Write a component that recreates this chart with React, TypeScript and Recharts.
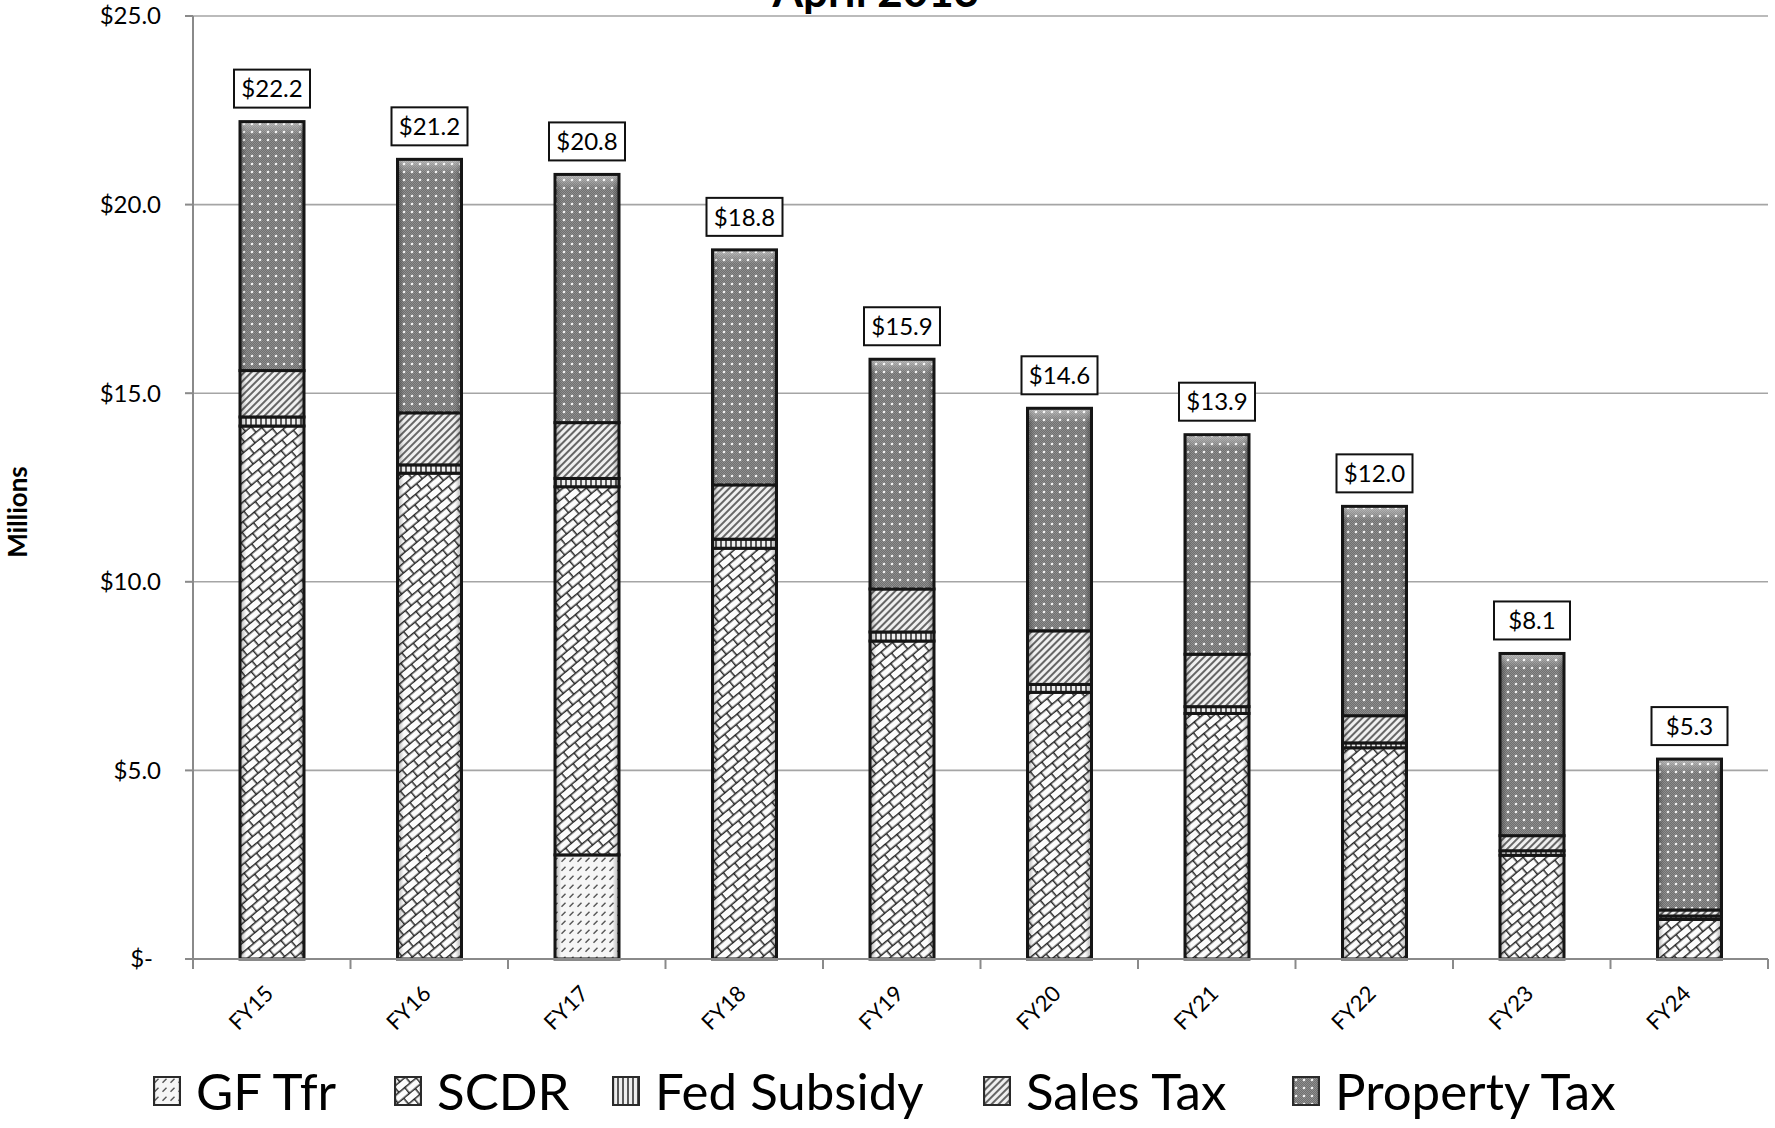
import React from 'react';
import { BarChart, Bar, XAxis, YAxis, CartesianGrid, LabelList } from 'recharts';

// Debt service funding sources by fiscal year ($ millions)
const categories = ['FY15', 'FY16', 'FY17', 'FY18', 'FY19', 'FY20', 'FY21', 'FY22', 'FY23', 'FY24'];
const gfTfr = [0, 0, 2.76, 0, 0, 0, 0, 0, 0, 0];
const scdr = [14.13, 12.88, 9.76, 10.89, 8.43, 7.07, 6.51, 5.6, 2.75, 1.05];
const fedSubsidy = [0.24, 0.22, 0.22, 0.24, 0.24, 0.21, 0.18, 0.13, 0.12, 0.09];
const salesTax = [1.23, 1.38, 1.48, 1.44, 1.14, 1.42, 1.39, 0.72, 0.4, 0.16];
const propertyTax = [6.6, 6.72, 6.58, 6.23, 6.09, 5.9, 5.82, 5.55, 4.83, 4.0];
const yTicks = [0, 5, 10, 15, 20, 25];

const TITLE = 'April 2013';
const FONT = "Lato, 'Open Sans', sans-serif";

const W = 1775;
const H = 1128;
const M = { top: 16, right: 7, left: 0, bottom: 69 };
const Y_AXIS_W = 193;
const HALF_BAND = (W - M.right - Y_AXIS_W) / categories.length / 2;
const AXIS_GRAY = '#8a8a8a';

const series = [
  { key: 'gf', name: 'GF Tfr', values: gfTfr, pat: 'pat-gf' },
  { key: 'scdr', name: 'SCDR', values: scdr, pat: 'pat-scdr' },
  { key: 'fed', name: 'Fed Subsidy', values: fedSubsidy, pat: 'pat-fed' },
  { key: 'sales', name: 'Sales Tax', values: salesTax, pat: 'pat-sales' },
  { key: 'prop', name: 'Property Tax', values: propertyTax, pat: 'pat-prop' },
];

// left edge of each legend entry's swatch
const LEGEND_X = [153, 394, 612, 983, 1292];

const data = categories.map((fy, i) => {
  const row: Record<string, any> = { fy };
  let total = 0;
  series.forEach((s) => {
    row[s.key] = s.values[i];
    total += s.values[i];
  });
  row.total = total;
  return row;
});

// Shared fill patterns (hatches, bricks, dots) used by bars and legend swatches
const PatternDefs = () => (
  <svg width={0} height={0} style={{ position: 'absolute' }}>
    <defs>
      <pattern id="pat-gf" width="8" height="9" patternUnits="userSpaceOnUse">
        <rect width="8" height="9" fill="#f6f6f6" />
        <line x1="1.5" y1="6.8" x2="5.5" y2="2.8" stroke="#555" strokeWidth="1.5" />
      </pattern>
      <pattern id="pat-scdr" width="15" height="15" patternUnits="userSpaceOnUse" patternTransform="rotate(-40)">
        <rect width="15" height="15" fill="#fcfcfc" />
        <path d="M0 0.7 H15 M0 8.2 H15 M0.7 0 V7.5 M8.2 7.5 V15" stroke="#262626" strokeWidth="1.5" fill="none" />
      </pattern>
      <pattern id="pat-fed" width="5" height="6" patternUnits="userSpaceOnUse">
        <rect width="5" height="6" fill="#eeeeee" />
        <line x1="1" y1="0" x2="1" y2="6" stroke="#333" strokeWidth="1.6" />
      </pattern>
      <pattern id="pat-sales" width="5" height="5" patternUnits="userSpaceOnUse" patternTransform="rotate(45)">
        <rect width="5" height="5" fill="#f0f0f0" />
        <line x1="1" y1="0" x2="1" y2="5" stroke="#444" strokeWidth="1.6" />
      </pattern>
      <pattern id="pat-chk" width="2" height="2" patternUnits="userSpaceOnUse">
        <rect width="2" height="2" fill="#707070" />
        <rect width="1" height="1" fill="#8e8e8e" />
        <rect x="1" y="1" width="1" height="1" fill="#8e8e8e" />
      </pattern>
      <pattern id="pat-prop" width="8" height="8" patternUnits="userSpaceOnUse">
        <rect width="8" height="8" fill="url(#pat-chk)" />
        <circle cx="4" cy="4" r="1.3" fill="#f2f2f2" />
      </pattern>
      <linearGradient id="bevel" x1="0" x2="1" y1="0" y2="0">
        <stop offset="0" stopColor="#000" stopOpacity="0.3" />
        <stop offset="0.1" stopColor="#000" stopOpacity="0" />
        <stop offset="0.9" stopColor="#000" stopOpacity="0" />
        <stop offset="1" stopColor="#000" stopOpacity="0.3" />
      </linearGradient>
      <linearGradient id="glow" x1="0" x2="0" y1="0" y2="1">
        <stop offset="0" stopColor="#fff" stopOpacity="0.45" />
        <stop offset="1" stopColor="#fff" stopOpacity="0" />
      </linearGradient>
    </defs>
  </svg>
);

const segment = (pat: string, topGlow = false) => (props: any) => {
  const { x, y, width, height } = props;
  if (!height || height <= 0.3) return <g />;
  return (
    <g>
      <rect x={x} y={y} width={width} height={height} fill={`url(#${pat})`} />
      <rect x={x} y={y} width={width} height={height} fill="url(#bevel)" />
      {topGlow && <rect x={x} y={y} width={width} height={Math.min(14, height)} fill="url(#glow)" />}
      <rect x={x} y={y} width={width} height={height} fill="none" stroke="#151515" strokeWidth={3} />
    </g>
  );
};

const TotalLabel = (p: any) => {
  const { x, y, width, value } = p;
  const cx = x + width / 2;
  const bw = 76;
  const bh = 38;
  const top = y - 14 - bh;
  return (
    <g>
      <rect x={cx - bw / 2} y={top} width={bw} height={bh} fill="#fff" stroke="#111" strokeWidth={2} />
      <text x={cx} y={top + bh / 2} dy="0.36em" textAnchor="middle" fontFamily={FONT} fontSize={24} fill="#000">
        {`$${Number(value).toFixed(1)}`}
      </text>
    </g>
  );
};

const YTick = (p: any) => {
  const { x, y, payload } = p;
  const v = payload.value;
  const label = v === 0 ? '$-' : `$${v.toFixed(1)}`;
  return (
    <text x={v === 0 ? x - 8 : x} y={y} dy="0.35em" textAnchor="end" fontFamily={FONT} fontSize={24} fill="#000">
      {label}
    </text>
  );
};

const XTick = (p: any) => {
  const { x, y, payload, index } = p;
  return (
    <g>
      {index === 0 && (
        <line x1={x - HALF_BAND} x2={x - HALF_BAND} y1={y} y2={y + 10} stroke={AXIS_GRAY} strokeWidth={2} />
      )}
      <line x1={x + HALF_BAND} x2={x + HALF_BAND} y1={y} y2={y + 10} stroke={AXIS_GRAY} strokeWidth={2} />
      <text
        transform={`translate(${x + 3},${y + 36}) rotate(-45)`}
        textAnchor="end"
        fontFamily={FONT}
        fontSize={22}
        fill="#000"
      >
        {payload.value}
      </text>
    </g>
  );
};

const MillionsLabel = () => (
  <text
    transform="translate(27,512) rotate(-90)"
    textAnchor="middle"
    fontFamily={FONT}
    fontWeight={700}
    fontSize={26}
    fill="#000"
  >
    Millions
  </text>
);

const Legend = () => (
  <div style={{ position: 'absolute', left: 0, top: 1064, width: W, height: 54 }}>
    {series.map((s, i) => (
      <div
        key={s.key}
        style={{
          position: 'absolute',
          left: LEGEND_X[i],
          top: 0,
          height: 54,
          display: 'flex',
          alignItems: 'center',
          fontFamily: FONT,
          fontSize: 51,
          lineHeight: '54px',
          color: '#000',
          whiteSpace: 'nowrap',
        }}
      >
        <svg width={28} height={30} style={{ marginRight: 15 }}>
          <rect x={1} y={1} width={26} height={28} fill={`url(#${s.pat})`} />
          <rect x={1} y={1} width={26} height={28} fill="url(#bevel)" />
          <rect x={1} y={1} width={26} height={28} fill="none" stroke="#2a2a2a" strokeWidth={2} />
        </svg>
        <span>{s.name}</span>
      </div>
    ))}
  </div>
);

export default function App() {
  return (
    <div style={{ position: 'absolute', left: 0, top: 0, width: W, height: H, background: '#fff' }}>
      <PatternDefs />
      <BarChart width={W} height={H} data={data} margin={M} barSize={64}>
        <CartesianGrid vertical={false} stroke="#a5a5a5" strokeWidth={1.6} />
        <XAxis
          dataKey="fy"
          interval={0}
          height={100}
          tickSize={0}
          tickMargin={0}
          tickLine={false}
          axisLine={{ stroke: AXIS_GRAY, strokeWidth: 2 }}
          tick={<XTick />}
        />
        <YAxis
          width={Y_AXIS_W}
          domain={[0, 25]}
          ticks={yTicks}
          interval={0}
          tickSize={8}
          tickMargin={24}
          axisLine={{ stroke: AXIS_GRAY, strokeWidth: 2 }}
          tickLine={{ stroke: AXIS_GRAY, strokeWidth: 2 }}
          tick={<YTick />}
          label={<MillionsLabel />}
        />
        {series.map((s) => (
          <Bar
            key={s.key}
            dataKey={s.key}
            name={s.name}
            stackId="funding"
            isAnimationActive={false}
            shape={segment(s.pat, s.key === 'prop')}
          >
            {s.key === 'prop' && <LabelList dataKey="total" content={<TotalLabel />} />}
          </Bar>
        ))}
      </BarChart>
      <svg width={W} height={30} style={{ position: 'absolute', left: 0, top: 0 }}>
        <text x={876} y={7} textAnchor="middle" fontFamily={FONT} fontWeight={700} fontSize={44} fill="#000">
          {TITLE}
        </text>
      </svg>
      <Legend />
    </div>
  );
}
